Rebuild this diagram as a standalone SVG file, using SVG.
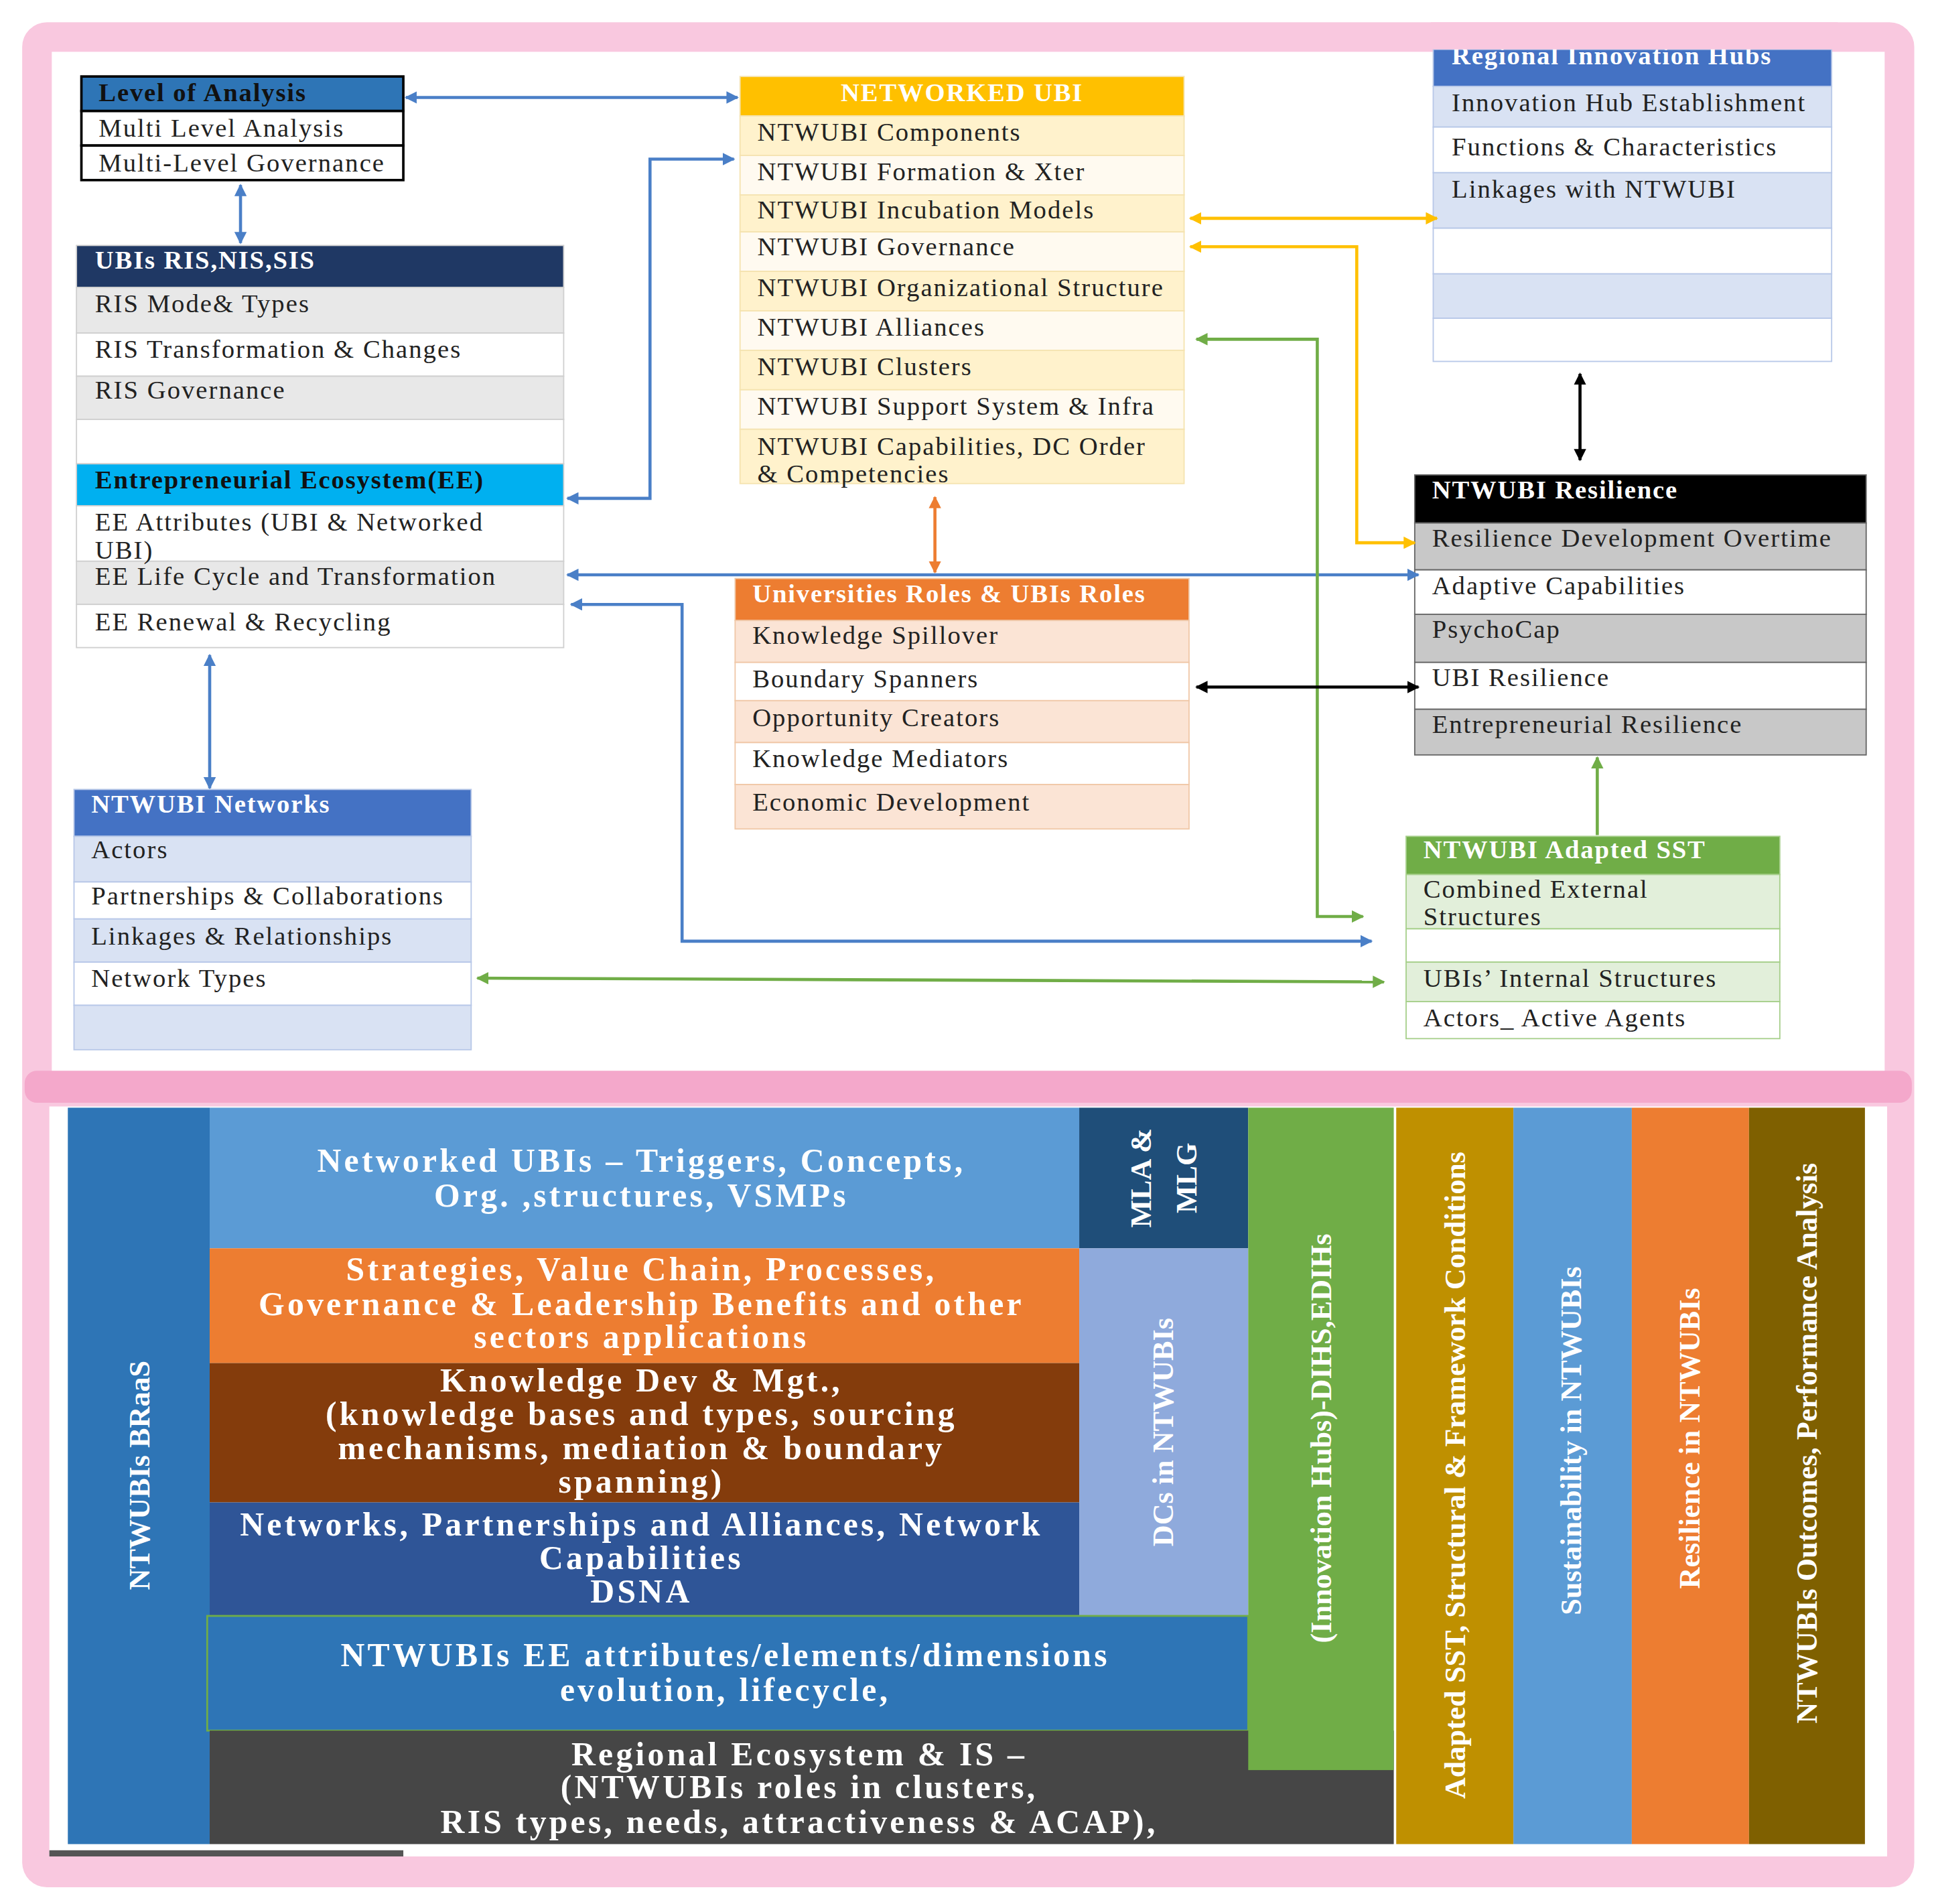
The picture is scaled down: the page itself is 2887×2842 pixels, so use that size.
<svg xmlns="http://www.w3.org/2000/svg" width="2887" height="2842" viewBox="0 0 2887 2842">
<style>
.t{font-family:"Liberation Serif",serif;font-size:21px;letter-spacing:1.1px;fill:#222}
.h{font-family:"Liberation Serif",serif;font-size:21px;letter-spacing:1px;font-weight:bold;fill:#fff}
.hd{font-family:"Liberation Serif",serif;font-size:21px;letter-spacing:1px;font-weight:bold;fill:#111}
.b{font-family:"Liberation Serif",serif;font-size:27px;letter-spacing:2.3px;font-weight:bold;fill:#fff;text-anchor:middle}
.v{font-family:"Liberation Serif",serif;font-size:24px;font-weight:bold;fill:#fff;text-anchor:middle}
.c{fill:none;stroke-width:2.5}
.bl{stroke:#4a7fc7}.ye{stroke:#ffc000}.gr{stroke:#70ad47}.or{stroke:#ed7d31}.bk{stroke:#000}
</style>
<defs>
<marker id="mb" viewBox="0 0 10 10" refX="9" refY="5" markerWidth="4" markerHeight="4" orient="auto-start-reverse"><path d="M0,0L10,5L0,10z" fill="#4a7fc7"/></marker>
<marker id="my" viewBox="0 0 10 10" refX="9" refY="5" markerWidth="4" markerHeight="4" orient="auto-start-reverse"><path d="M0,0L10,5L0,10z" fill="#ffc000"/></marker>
<marker id="mg" viewBox="0 0 10 10" refX="9" refY="5" markerWidth="4" markerHeight="4" orient="auto-start-reverse"><path d="M0,0L10,5L0,10z" fill="#70ad47"/></marker>
<marker id="mo" viewBox="0 0 10 10" refX="9" refY="5" markerWidth="4" markerHeight="4" orient="auto-start-reverse"><path d="M0,0L10,5L0,10z" fill="#ed7d31"/></marker>
<marker id="mk" viewBox="0 0 10 10" refX="9" refY="5" markerWidth="4" markerHeight="4" orient="auto-start-reverse"><path d="M0,0L10,5L0,10z" fill="#000"/></marker>
</defs>
<rect width="2887" height="2842" fill="#fff"/>
<g transform="scale(1.8412)">
<g id="frame">
<rect x="18" y="18" width="1534" height="1512" rx="20" fill="#f9c8df"/>
<rect x="42" y="42" width="1486" height="830" fill="#fff"/>
<rect x="20" y="868" width="1530" height="26" rx="10" fill="#f4a8cb"/>
<rect x="40" y="897" width="1490" height="608" fill="#fff"/>
<rect x="40" y="1500" width="287" height="5" fill="#555"/>
</g>

<g id="level">
<rect x="66" y="62" width="261" height="28" fill="#2e75b6" stroke="#000" stroke-width="2"/>
<rect x="66" y="90" width="261" height="28" fill="#fff" stroke="#000" stroke-width="2"/>
<rect x="66" y="118" width="261" height="28" fill="#fff" stroke="#000" stroke-width="2"/>
<text class="hd" x="80" y="82">Level of Analysis</text>
<text class="t" x="80" y="111">Multi Level Analysis</text>
<text class="t" x="80" y="139">Multi-Level Governance</text>
</g>

<g id="ris" stroke="#d0d0d0">
<rect x="62" y="199" width="395" height="34" fill="#1f3864"/>
<rect x="62" y="233" width="395" height="37" fill="#e8e8e8"/>
<rect x="62" y="270" width="395" height="35" fill="#fff"/>
<rect x="62" y="305" width="395" height="35" fill="#e8e8e8"/>
<rect x="62" y="340" width="395" height="36" fill="#fff"/>
<text class="h" x="77" y="218" stroke="none">UBIs RIS,NIS,SIS</text>
<text class="t" x="77" y="253" stroke="none">RIS Mode&amp; Types</text>
<text class="t" x="77" y="290" stroke="none">RIS Transformation &amp; Changes</text>
<text class="t" x="77" y="323" stroke="none">RIS Governance</text>
</g>
<g id="ee" stroke="#d0d0d0">
<rect x="62" y="376" width="395" height="34" fill="#00b0f0"/>
<rect x="62" y="410" width="395" height="45" fill="#fff"/>
<rect x="62" y="455" width="395" height="35" fill="#e8e8e8"/>
<rect x="62" y="490" width="395" height="35" fill="#fff"/>
<text class="hd" x="77" y="396" stroke="none">Entrepreneurial Ecosystem(EE)</text>
<text class="t" x="77" y="430" stroke="none">EE Attributes (UBI &amp; Networked</text>
<text class="t" x="77" y="453" stroke="none">UBI)</text>
<text class="t" x="77" y="474" stroke="none">EE Life Cycle and Transformation</text>
<text class="t" x="77" y="511" stroke="none">EE Renewal &amp; Recycling</text>
</g>

<g id="networked" stroke="#f5e3b0">
<rect x="600" y="62" width="360" height="32" fill="#ffc000"/>
<rect x="600" y="94" width="360" height="32" fill="#fff2cc"/>
<rect x="600" y="126" width="360" height="32" fill="#fffaf0"/>
<rect x="600" y="158" width="360" height="30" fill="#fff2cc"/>
<rect x="600" y="188" width="360" height="32" fill="#fffaf0"/>
<rect x="600" y="220" width="360" height="32" fill="#fff2cc"/>
<rect x="600" y="252" width="360" height="32" fill="#fffaf0"/>
<rect x="600" y="284" width="360" height="32" fill="#fff2cc"/>
<rect x="600" y="316" width="360" height="32" fill="#fffaf0"/>
<rect x="600" y="348" width="360" height="44" fill="#fff2cc"/>
<g stroke="none">
<text class="h" x="780" y="82" text-anchor="middle">NETWORKED UBI</text>
<text class="t" x="614" y="114">NTWUBI Components</text>
<text class="t" x="614" y="146">NTWUBI Formation &amp; Xter</text>
<text class="t" x="614" y="177">NTWUBI  Incubation Models</text>
<text class="t" x="614" y="207">NTWUBI Governance</text>
<text class="t" x="614" y="240">NTWUBI Organizational Structure</text>
<text class="t" x="614" y="272">NTWUBI Alliances</text>
<text class="t" x="614" y="304">NTWUBI Clusters</text>
<text class="t" x="614" y="336">NTWUBI Support System &amp; Infra</text>
<text class="t" x="614" y="369">NTWUBI Capabilities, DC Order</text>
<text class="t" x="614" y="391">&amp; Competencies</text>
</g>
</g>

<g id="hubs" stroke="#b8c8e8">
<rect x="1162" y="40" width="323" height="30" fill="#4472c4"/>
<rect x="1162" y="70" width="323" height="33" fill="#d9e2f3"/>
<rect x="1162" y="103" width="323" height="37" fill="#fff"/>
<rect x="1162" y="140" width="323" height="45" fill="#d9e2f3"/>
<rect x="1162" y="185" width="323" height="37" fill="#fff"/>
<rect x="1162" y="222" width="323" height="36" fill="#d9e2f3"/>
<rect x="1162" y="258" width="323" height="35" fill="#fff"/>
<g stroke="none">
<text class="h" x="1177" y="52">Regional Innovation Hubs</text>
<text class="t" x="1177" y="90">Innovation Hub Establishment</text>
<text class="t" x="1177" y="126">Functions &amp; Characteristics</text>
<text class="t" x="1177" y="160">Linkages with NTWUBI</text>
</g>
</g>
<rect x="1160" y="18" width="330" height="22" fill="#f9c8df"/>

<g id="resilience" stroke="#666">
<rect x="1147" y="385" width="366" height="39" fill="#000"/>
<rect x="1147" y="424" width="366" height="38" fill="#c8c8c8"/>
<rect x="1147" y="462" width="366" height="36" fill="#fff"/>
<rect x="1147" y="498" width="366" height="39" fill="#c8c8c8"/>
<rect x="1147" y="537" width="366" height="38" fill="#fff"/>
<rect x="1147" y="575" width="366" height="37" fill="#c8c8c8"/>
<g stroke="none">
<text class="h" x="1161" y="404">NTWUBI Resilience</text>
<text class="t" x="1161" y="443">Resilience Development Overtime</text>
<text class="t" x="1161" y="482">Adaptive Capabilities</text>
<text class="t" x="1161" y="517">PsychoCap</text>
<text class="t" x="1161" y="556">UBI Resilience</text>
<text class="t" x="1161" y="594">Entrepreneurial Resilience</text>
</g>
</g>

<g id="universities" stroke="#f0c8a8">
<rect x="596" y="469" width="368" height="34" fill="#ed7d31"/>
<rect x="596" y="503" width="368" height="34" fill="#fbe4d5"/>
<rect x="596" y="537" width="368" height="31" fill="#fff"/>
<rect x="596" y="568" width="368" height="34" fill="#fbe4d5"/>
<rect x="596" y="602" width="368" height="34" fill="#fff"/>
<rect x="596" y="636" width="368" height="36" fill="#fbe4d5"/>
<g stroke="none">
<text class="h" x="610" y="488">Universities Roles  &amp; UBIs Roles</text>
<text class="t" x="610" y="522">Knowledge Spillover</text>
<text class="t" x="610" y="557">Boundary Spanners</text>
<text class="t" x="610" y="589">Opportunity Creators</text>
<text class="t" x="610" y="622">Knowledge Mediators</text>
<text class="t" x="610" y="657">Economic Development</text>
</g>
</g>

<g id="networks" stroke="#b8c8e8">
<rect x="60" y="640" width="322" height="38" fill="#4472c4"/>
<rect x="60" y="678" width="322" height="37" fill="#d9e2f3"/>
<rect x="60" y="715" width="322" height="30" fill="#fff"/>
<rect x="60" y="745" width="322" height="35" fill="#d9e2f3"/>
<rect x="60" y="780" width="322" height="35" fill="#fff"/>
<rect x="60" y="815" width="322" height="36" fill="#d9e2f3"/>
<g stroke="none">
<text class="h" x="74" y="659">NTWUBI Networks</text>
<text class="t" x="74" y="696">Actors</text>
<text class="t" x="74" y="733">Partnerships &amp; Collaborations</text>
<text class="t" x="74" y="766">Linkages &amp; Relationships</text>
<text class="t" x="74" y="800">Network Types</text>
</g>
</g>

<g id="sst" stroke="#a8d08d">
<rect x="1140" y="678" width="303" height="31" fill="#70ad47"/>
<rect x="1140" y="709" width="303" height="44" fill="#e2efda"/>
<rect x="1140" y="753" width="303" height="27" fill="#fff"/>
<rect x="1140" y="780" width="303" height="32" fill="#e2efda"/>
<rect x="1140" y="812" width="303" height="30" fill="#fff"/>
<g stroke="none">
<text class="h" x="1154" y="696" font-weight="normal">NTWUBI Adapted SST</text>
<text class="t" x="1154" y="728">Combined External</text>
<text class="t" x="1154" y="750">Structures</text>
<text class="t" x="1154" y="800">UBIs’ Internal Structures</text>
<text class="t" x="1154" y="832">Actors_ Active Agents</text>
</g>
</g>

<g id="connectors">
<path class="c bl" d="M329,79H598" marker-start="url(#mb)" marker-end="url(#mb)"/>
<path class="c bl" d="M195,150V197" marker-start="url(#mb)" marker-end="url(#mb)"/>
<path class="c bl" d="M460,404H527V129H595" marker-start="url(#mb)" marker-end="url(#mb)"/>
<path class="c or" d="M758,403V464" marker-start="url(#mo)" marker-end="url(#mo)"/>
<path class="c bl" d="M460,466H1150" marker-start="url(#mb)" marker-end="url(#mb)"/>
<path class="c bl" d="M463,490H553V763H1112" marker-start="url(#mb)" marker-end="url(#mb)"/>
<path class="c ye" d="M965,177H1165" marker-start="url(#my)" marker-end="url(#my)"/>
<path class="c ye" d="M965,200H1100V440H1147" marker-start="url(#my)" marker-end="url(#my)"/>
<path class="c gr" d="M970,275H1068V743H1105" marker-start="url(#mg)" marker-end="url(#mg)"/>
<path class="c bk" d="M970,557H1150" marker-start="url(#mk)" marker-end="url(#mk)"/>
<path class="c bk" d="M1281,303V373" marker-start="url(#mk)" marker-end="url(#mk)"/>
<path class="c gr" d="M1295,677V614" marker-end="url(#mg)"/>
<path class="c gr" d="M387,793L1122,796" marker-start="url(#mg)" marker-end="url(#mg)"/>
<path class="c bl" d="M170,531V639" marker-start="url(#mb)" marker-end="url(#mb)"/>
</g>

<g id="bottom">
<rect x="55" y="898" width="115" height="597" fill="#2e75b6"/>
<rect x="170" y="898" width="705" height="114" fill="#5b9bd5"/>
<rect x="875" y="898" width="137" height="114" fill="#1f4e79"/>
<rect x="170" y="1012" width="705" height="93" fill="#ed7d31"/>
<rect x="170" y="1105" width="705" height="113" fill="#843c0c"/>
<rect x="170" y="1218" width="705" height="92" fill="#2f5597"/>
<rect x="875" y="1012" width="137" height="298" fill="#8faadc"/>
<rect x="168" y="1310" width="844" height="93" fill="#2e75b6" stroke="#70ad47" stroke-width="1.5"/>
<rect x="170" y="1403" width="960" height="92" fill="#464646"/>
<rect x="1012" y="898" width="118" height="537" fill="#70ad47"/>
<rect x="1132" y="898" width="95" height="597" fill="#bf9000"/>
<rect x="1227" y="898" width="96" height="597" fill="#5b9bd5"/>
<rect x="1323" y="898" width="95" height="597" fill="#ed7d31"/>
<rect x="1418" y="898" width="94" height="597" fill="#7f6000"/>

<text class="b" x="520" y="950">Networked UBIs – Triggers, Concepts,</text>
<text class="b" x="520" y="978">Org. ,structures, VSMPs</text>
<text class="b" x="520" y="1038">Strategies, Value Chain, Processes,</text>
<text class="b" x="520" y="1066">Governance &amp; Leadership Benefits and other</text>
<text class="b" x="520" y="1093">sectors applications</text>
<text class="b" x="520" y="1128">Knowledge Dev &amp; Mgt.,</text>
<text class="b" x="520" y="1155">(knowledge bases and types, sourcing</text>
<text class="b" x="520" y="1183">mechanisms, mediation &amp;  boundary</text>
<text class="b" x="520" y="1210">spanning)</text>
<text class="b" x="520" y="1245">Networks, Partnerships and Alliances, Network</text>
<text class="b" x="520" y="1272">Capabilities</text>
<text class="b" x="520" y="1299">DSNA</text>
<text class="b" x="588" y="1351">NTWUBIs EE attributes/elements/dimensions</text>
<text class="b" x="588" y="1379">evolution, lifecycle,</text>
<text class="b" x="648" y="1431">Regional Ecosystem &amp; IS –</text>
<text class="b" x="648" y="1458">(NTWUBIs roles in clusters,</text>
<text class="b" x="648" y="1486">RIS types, needs, attractiveness &amp; ACAP),</text>

<text class="v" transform="translate(121,1196) rotate(-90)">NTWUBIs BRaaS</text>
<text class="v" transform="translate(933,955) rotate(-90)">MLA &amp;</text>
<text class="v" transform="translate(970,955) rotate(-90)">MLG</text>
<text class="v" transform="translate(951,1161) rotate(-90)">DCs in NTWUBIs</text>
<text class="v" transform="translate(1079,1166) rotate(-90)">(Innovation Hubs)-DIHS,EDIHs</text>
<text class="v" transform="translate(1188,1196) rotate(-90)">Adapted SST, Structural &amp; Framework Conditions</text>
<text class="v" transform="translate(1282,1168) rotate(-90)">Sustainability in NTWUBIs</text>
<text class="v" transform="translate(1378,1166) rotate(-90)">Resilience in NTWUBIs</text>
<text class="v" transform="translate(1473,1170) rotate(-90)">NTWUBIs Outcomes, Performance Analysis</text>
</g>
</g>
</svg>
